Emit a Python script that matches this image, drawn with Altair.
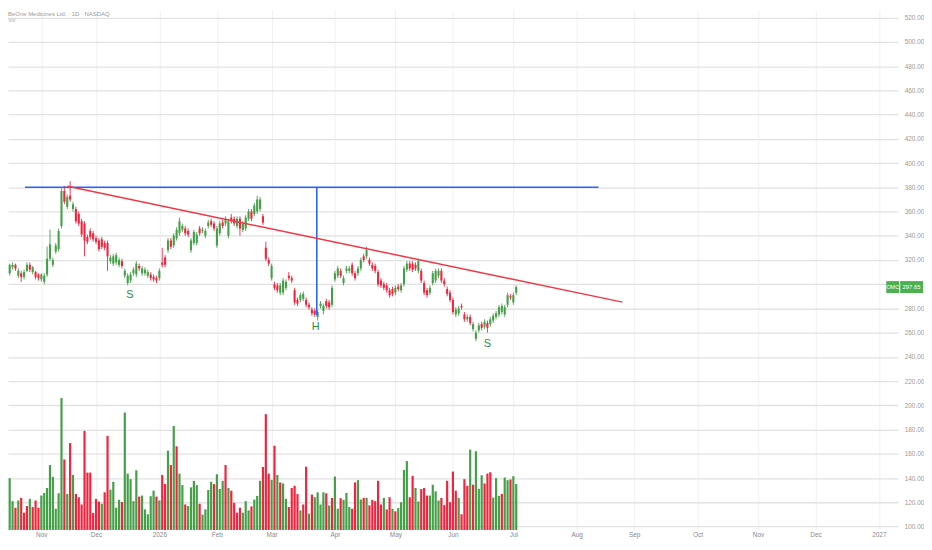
import altair as alt
import pandas as pd

# ---------------- data ----------------
title_text = "BeOne Medicines Ltd. · 1D · NASDAQ"
ticker = "OMC"

opens = [316,312,318,309,314,316,307,309,306,311,
         316,310,310,308,304,302,308,321,316,327,
         329,348,377,364,373,362,362,358,352,350,
         339,344,342,338,336,337,334,334,319,317,
         318,316,319,307,301,303,309,308,315,309,
         309,307,308,306,305,305,318,322,328,336,
         332,338,342,345,346,344,328,334,334,346,
         344,340,348,352,350,332,342,351,350,340,
         355,354,348,354,345,346,354,360,358,360,
         362,356,330,320,305,300,299,293,293,297,
         307,305,295,287,287,288,287,283,279,278,
         273,282,278,286,285,283,304,307,311,301,
         311,311,316,309,309,313,323,323,320,316,
         315,310,303,300,299,295,296,293,298,295,
         300,312,317,317,316,311,311,301,295,293,
         301,303,307,311,303,296,293,287,275,276,
         282,275,271,273,263,255,262,267,265,268,
         267,270,273,275,277,275,283,290,285,293]

closes = [320,317,314,316,316,313,311,306,310,316,
          312,314,306,305,308,307,321,333,320,332,
          344,377,368,372,370,366,352,350,341,336,
          335,339,337,335,329,331,330,323,322,323,
          324,320,315,311,307,308,312,317,313,313,
          312,310,305,304,303,311,316,316,336,331,
          340,345,352,348,342,341,336,343,341,342,
          345,344,351,349,346,346,350,348,354,352,
          352,350,354,346,350,355,360,354,365,370,
          370,351,321,317,315,297,295,299,303,302,
          305,303,285,284,291,292,283,281,276,275,
          277,284,282,282,281,297,309,313,307,305,
          313,313,309,305,313,320,320,328,317,313,
          311,300,299,297,295,291,292,297,296,299,
          313,317,313,312,313,319,303,293,291,297,
          309,311,311,303,300,292,287,277,279,280,
          281,271,273,268,267,260,266,264,269,264,
          271,274,276,281,282,281,291,289,291,297.65]

highs = [322,319,320,317,318,317,313,311,312,318,
         318,315,311,309,309,309,331,345,322,334,
         346,379,381,374,385,368,364,360,354,352,
         341,346,344,340,338,339,336,336,324,325,
         326,322,321,313,309,310,314,319,317,315,
         314,312,310,308,307,313,330,324,338,338,
         342,347,355,350,348,346,338,345,343,348,
         347,346,353,354,352,348,352,353,356,354,
         358,356,356,356,352,357,362,362,367,373,
         372,358,335,322,317,302,301,301,305,304,
         310,307,297,289,293,294,289,285,281,280,
         279,286,284,288,287,299,311,315,313,307,
         315,315,318,311,315,322,325,331,322,318,
         317,312,305,302,301,297,298,299,300,301,
         315,319,319,319,318,321,313,303,297,299,
         311,313,313,313,305,298,295,289,281,282,
         284,277,275,275,269,262,268,269,271,270,
         273,276,278,283,284,283,293,292,293,299]

lows = [313,310,312,307,312,311,305,302,304,310,
        310,308,304,303,302,300,306,319,314,325,
        327,346,366,362,368,360,350,348,339,323,
        333,337,335,333,327,329,328,311,317,315,
        316,314,313,305,299,301,307,306,311,307,
        307,305,303,302,301,303,314,314,326,329,
        330,336,340,343,340,339,326,332,332,340,
        342,338,346,347,344,330,340,346,348,338,
        350,348,346,340,343,344,352,352,356,358,
        360,349,319,315,303,295,293,291,291,295,
        303,301,283,282,285,286,281,279,274,273,
        270,280,275,280,279,281,302,305,305,299,
        309,309,307,303,307,311,318,321,315,311,
        309,298,297,295,293,289,290,291,294,293,
        298,310,311,310,311,309,301,291,289,291,
        299,301,305,301,298,290,285,275,273,274,
        279,269,269,266,261,253,260,262,263,260,
        265,268,271,273,275,273,281,287,283,291]

volumes = [525,456,324,474,264,204,270,294,159,219,
           285,210,270,204,315,339,384,594,486,195,
           336,1206,645,330,795,504,330,300,234,906,
           525,525,156,285,261,240,345,861,369,441,
           204,276,255,1074,516,465,264,546,306,315,
           189,144,309,360,306,270,504,420,726,594,
           951,765,516,411,234,219,390,450,411,240,
           141,189,366,441,420,510,375,450,594,384,
           360,249,159,204,159,264,180,216,279,312,
           450,576,1059,516,459,771,504,435,426,285,
           210,384,405,330,180,234,579,150,324,300,
           345,234,345,336,225,294,489,195,291,276,
           339,210,195,435,456,279,294,294,225,276,
           264,450,234,294,189,300,195,171,201,255,
           549,630,300,495,384,261,375,384,315,315,
           414,354,270,294,228,450,255,534,360,294,
           144,465,405,735,414,720,375,501,426,516,
           528,297,474,312,330,480,456,462,492,420]

volume_dirs = list(
    "GGRGGRGRRR" "GRRRGGGGGG" "GGRGRGRRRR" "RRRRRGRRGG" "GGRGGGGGRG"
    "GGGGRGRRGR" "GRGGRGGGGR" "GGGGRGGGRG" "RRRRGGGRGG" "GRRRGRGRGG"
    "RRRRGRRGRG" "GGGRGRGGRG" "GGRRGGRGRR" "RRRGRRGRGG" "GGRRGGRRRG"
    "GGGRRRRRRG" "RRRGRGGGRR" "RGGGRGGRGG"
)

# month labels (bar index where each month starts; future months projected)
month_pos = [14, 33, 55, 75, 94, 116, 137, 157, 178, 200, 220, 242, 263, 283, 305]
month_lab = ["Nov", "Dec", "2026", "Feb", "Mar", "Apr", "May", "Jun", "Jul",
             "Aug", "Sep", "Oct", "Nov", "Dec", "2027"]

price_ticks = list(range(100, 540, 20))

# drawings
hline_x = [8.3, 207.6]
hline_y = [380]
vline_x = [109.7]
vline_y = [380, 274.3]
trend_x = [23.1, 215.9]
trend_y = [380.8, 285.2]
pattern_lab = ["S", "H", "S"]
pattern_x = [44.8, 109.3, 169.0]
pattern_y = [291.4, 264.6, 250.7]

# ---------------- build tables ----------------
n = min(len(opens), len(closes), len(highs), len(lows), len(volumes), len(volume_dirs))
df = pd.DataFrame({
    "idx": list(range(n)),
    "o": opens[:n], "c": closes[:n], "h": highs[:n], "l": lows[:n],
    "vol": volumes[:n], "vdir": volume_dirs[:n],
})
df["dir"] = ["G" if c >= o else "R" for o, c in zip(df["o"], df["c"])]
last_close = closes[n - 1]

GREEN = "#43a047"
RED = "#f5223d"
col_scale = alt.Scale(domain=["G", "R"], range=[GREEN, RED])

W, H = 897, 524
xs = alt.Scale(domain=[2.414, 311.72], nice=False, zero=False)
ys = alt.Scale(domain=[97.07, 526.3], nice=False, zero=False)
vs = alt.Scale(domain=[0, 4752], nice=False, zero=False)

label_expr = "[" + ",".join("'%s'" % m for m in month_lab) + "][indexof([" + \
    ",".join(str(p) for p in month_pos) + "], datum.value)]"
# the price tag covers the nearest price label
hidden_tick = min(price_ticks, key=lambda v: abs(v - last_close))
y_label_expr = "datum.value == %d ? '' : format(datum.value, '.2f')" % hidden_tick

x_axis = alt.Axis(values=month_pos, tickCount=len(month_pos) + 5, labelExpr=label_expr,
                  ticks=False, domain=False, grid=True, gridColor="#f0f0f0",
                  gridWidth=1, labelColor="#8a8a8a", labelFontSize=6.5,
                  labelPadding=2, labelOverlap=False, labelFlush=False, title=None,
                  labelFont="Liberation Sans")
y_axis = alt.Axis(orient="right", values=price_ticks, tickCount=len(price_ticks) + 5,
                  labelExpr=y_label_expr, ticks=False, domain=False, grid=True,
                  gridColor="#e2e2e2", gridWidth=1.3, labelColor="#9a9a9a",
                  labelFontSize=6.5, labelPadding=6, labelOverlap=False,
                  labelFlush=False, title=None, labelFont="Liberation Sans")

def X(field):
    return alt.X(field, scale=xs, title=None)

def Y(field):
    return alt.Y(field, scale=ys, title=None)

# volume (own hidden y scale, shared x)
vol_layer = alt.Chart(df).mark_rule(strokeWidth=2.2, clip=True).encode(
    x=alt.X("idx:Q", scale=xs, axis=x_axis),
    y=alt.Y("vol:Q", scale=vs, axis=None),
    y2=alt.datum(0),
    color=alt.Color("vdir:N", scale=col_scale, legend=None),
)

wicks = alt.Chart(df).mark_rule(strokeWidth=0.9, clip=True).encode(
    x=X("idx:Q"),
    y=alt.Y("l:Q", scale=ys, axis=y_axis),
    y2="h:Q",
    color=alt.Color("dir:N", scale=col_scale, legend=None),
)
bodies = alt.Chart(df).mark_rule(strokeWidth=2.1, clip=True).encode(
    x=X("idx:Q"),
    y=Y("o:Q"),
    y2="c:Q",
    color=alt.Color("dir:N", scale=col_scale, legend=None),
)

hdf = pd.DataFrame({"x1": [hline_x[0]], "x2": [hline_x[1]], "y": hline_y})
hline = alt.Chart(hdf).mark_rule(color="#2962ff", strokeWidth=1.6).encode(
    x=X("x1:Q"), x2="x2:Q", y=Y("y:Q"),
)
vdf = pd.DataFrame({"x": vline_x, "y1": [vline_y[0]], "y2": [vline_y[1]]})
vline = alt.Chart(vdf).mark_rule(color="#2962ff", strokeWidth=1.6).encode(
    x=X("x:Q"), y=Y("y1:Q"), y2="y2:Q",
)
tdf = pd.DataFrame({"x": trend_x, "y": trend_y})
trend = alt.Chart(tdf).mark_line(color="#f23645", strokeWidth=1.5).encode(
    x=X("x:Q"), y=Y("y:Q"),
)
pdf = pd.DataFrame({"t": pattern_lab, "x": pattern_x, "y": pattern_y})
letters = alt.Chart(pdf).mark_text(fontSize=11, color="#2e8b3e",
                                   font="Liberation Sans", baseline="middle").encode(
    x=X("x:Q"), y=Y("y:Q"), text="t:N",
)

last = pd.DataFrame({"p": [last_close], "name": [ticker]})
last["lab"] = ["%.2f" % v for v in last["p"]]
tag_base = alt.Chart(last).transform_calculate(lo="datum.p - 4.9", hi="datum.p + 4.9")
tag_name_box = tag_base.mark_rect(color="#4caf50").encode(
    x=alt.value(885), x2=alt.value(898), y=Y("lo:Q"), y2="hi:Q",
)
tag_price_box = tag_base.mark_rect(color="#4caf50").encode(
    x=alt.value(899), x2=alt.value(922), y=Y("lo:Q"), y2="hi:Q",
)
tag_name = alt.Chart(last).mark_text(color="white", fontSize=5.5, align="center",
                                     baseline="middle", font="Liberation Sans").encode(
    x=alt.value(891.5), y=Y("p:Q"), text="name:N",
)
tag_price = alt.Chart(last).mark_text(color="white", fontSize=6, align="center",
                                      baseline="middle", font="Liberation Sans").encode(
    x=alt.value(910.5), y=Y("p:Q"), text="lab:N",
)

tt = pd.DataFrame({"t": [title_text, "Vol"], "row": [0, 1]})
title_lbl = alt.Chart(tt).transform_filter("datum.row == 0").mark_text(
    align="left", baseline="top", fontSize=6, color="#9a9a9a", font="Liberation Sans"
).encode(x=alt.value(0), y=alt.value(1), text="t:N")
vol_lbl = alt.Chart(tt).transform_filter("datum.row == 1").mark_text(
    align="left", baseline="top", fontSize=5.5, color="#b0b0b0", font="Liberation Sans"
).encode(x=alt.value(0), y=alt.value(8), text="t:N")

price = alt.layer(wicks, bodies, hline, vline, trend, letters,
                  tag_name_box, tag_price_box, tag_name, tag_price,
                  title_lbl, vol_lbl)

chart = alt.layer(vol_layer, price).resolve_scale(y="independent").properties(
    width=W, height=H, padding=0, background="white"
).configure_view(stroke=None)

chart.save("out.html", embed_options={"renderer": "svg", "actions": False})
